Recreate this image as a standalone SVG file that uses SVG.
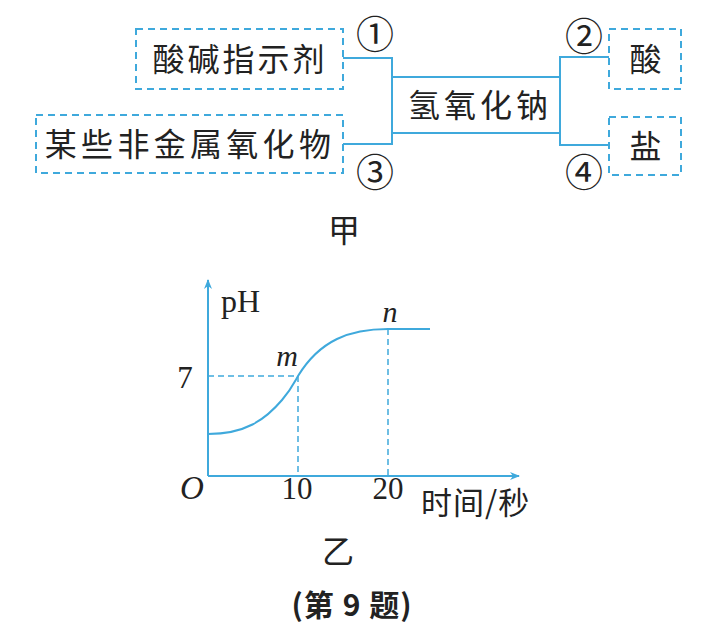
<svg xmlns="http://www.w3.org/2000/svg" width="726" height="635" viewBox="0 0 726 635">
<style>
.box{fill:none;stroke:#3fa9dc;stroke-width:2;stroke-dasharray:7 5}
.ln{fill:none;stroke:#3fa9dc;stroke-width:2}
.dash{fill:none;stroke:#3fa9dc;stroke-width:1.5;stroke-dasharray:6 4}
.cn{font-family:"Noto Sans CJK SC",sans-serif;fill:#222;font-size:32px;letter-spacing:3px}
.num{font-family:"Noto Sans CJK SC","DejaVu Sans",sans-serif;fill:#222;font-size:38px}
.ser{font-family:"Liberation Serif",serif;fill:#222;font-size:31px}
.it{font-family:"Liberation Serif",serif;fill:#222;font-size:30px;font-style:italic}
</style>
<defs>
<marker id="arr" markerWidth="10" markerHeight="10" refX="9" refY="5" orient="auto" markerUnits="userSpaceOnUse">
<path d="M0,1 L10,5 L0,9 L3,5 Z" fill="#3fa9dc"/>
</marker>
</defs>
<rect width="726" height="635" fill="#fff"/>
<g id="connectors">
<polyline class="ln" points="343,58 392,58 392,144 343,144"/>
<line class="ln" x1="392" y1="77" x2="560" y2="77"/>
<line class="ln" x1="392" y1="133" x2="560" y2="133"/>
<polyline class="ln" points="609,57 560,57 560,145 609,145"/>
</g>
<g id="n-indicator">
<rect class="box" x="136" y="29" width="207" height="60"/>
<text class="cn" x="240" y="71" text-anchor="middle">酸碱指示剂</text>
</g>
<g id="n-oxide">
<rect class="box" x="36" y="115" width="307" height="58"/>
<text class="cn" x="190" y="156" text-anchor="middle" style="letter-spacing:4.3px">某些非金属氧化物</text>
</g>
<g id="n-naoh">
<text class="cn" x="480" y="117" text-anchor="middle" style="letter-spacing:4px">氢氧化钠</text>
</g>
<g id="n-acid">
<rect class="box" x="609" y="29" width="72" height="60"/>
<text class="cn" x="647" y="71" text-anchor="middle">酸</text>
</g>
<g id="n-salt">
<rect class="box" x="609" y="117" width="72" height="58"/>
<text class="cn" x="647" y="158" text-anchor="middle">盐</text>
</g>
<g id="labels">
<text class="num" x="375" y="48" text-anchor="middle">①</text>
<text class="num" x="584" y="50" text-anchor="middle">②</text>
<text class="num" x="375" y="186" text-anchor="middle">③</text>
<text class="num" x="584" y="186" text-anchor="middle">④</text>
<text class="cn" x="344" y="242" text-anchor="middle" style="font-size:32px;letter-spacing:0">甲</text>
</g>
<g id="graph">
<line class="ln" x1="208" y1="476" x2="208" y2="280" marker-end="url(#arr)"/>
<line class="ln" x1="208" y1="476" x2="519" y2="476" marker-end="url(#arr)"/>
<polyline class="dash" points="208,376 298,376 298,476"/>
<line class="dash" x1="388" y1="329" x2="388" y2="476"/>
<path class="ln" d="M208,434 C245,434 265,420 282,400 C292,388 295,381 298,376 C320,340 350,329 388,329 L430,329"/>
<text class="ser" x="221" y="312" style="font-size:32px">pH</text>
<text class="ser" x="185" y="388" text-anchor="middle">7</text>
<text class="it" x="287" y="366" text-anchor="middle">m</text>
<text class="it" x="390" y="322" text-anchor="middle">n</text>
<text class="it" x="192" y="499" text-anchor="middle" style="font-size:33px">O</text>
<text class="ser" x="297" y="499" text-anchor="middle">10</text>
<text class="ser" x="388" y="499" text-anchor="middle">20</text>
<text class="cn" x="421" y="514" style="font-size:31px;letter-spacing:1px">时间/秒</text>
<text class="cn" x="338" y="563" text-anchor="middle" style="font-size:32px;letter-spacing:0">乙</text>
<text class="cn" x="352" y="616" text-anchor="middle" style="font-size:30px;font-weight:bold;letter-spacing:1px">(第 9 题)</text>
</g>
</svg>
